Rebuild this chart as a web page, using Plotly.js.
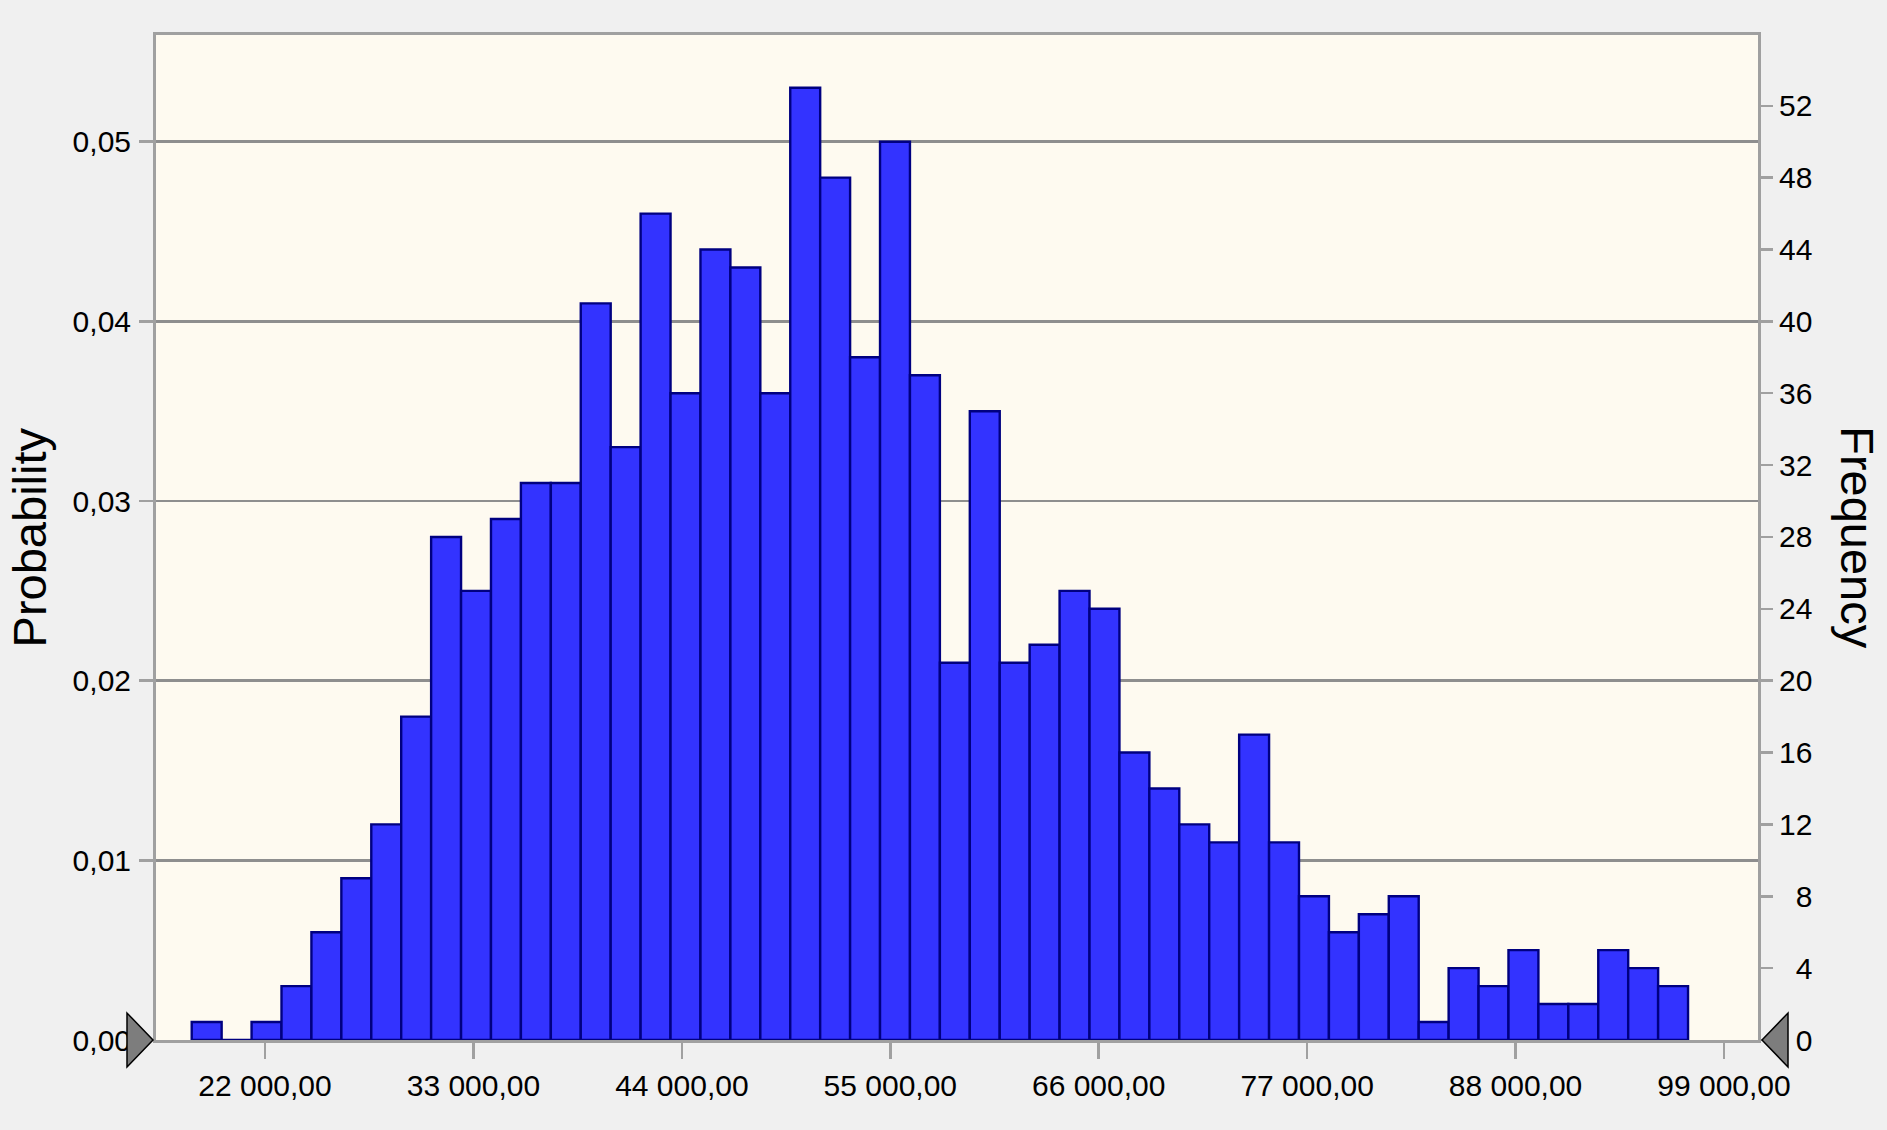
<!DOCTYPE html>
<html>
<head>
<meta charset="utf-8">
<script src="https://cdn.plot.ly/plotly-3.0.1.min.js"></script>
<style>
  html, body { margin: 0; padding: 0; background: #f0f0f0; }
  #chart { width: 1887px; height: 1130px; }
</style>
</head>
<body>
<div id="chart"></div>
<script>
// ---- data ----
const binStart = 18132;     // left edge of first bin
const binWidth = 1579.4;    // width of every bin
const frequency = [
  1, 0, 1, 3, 6, 9, 12, 18, 28, 25,
  29, 31, 31, 41, 33, 46, 36, 44, 43, 36,
  53, 48, 38, 50, 37, 21, 35, 21, 22, 25,
  24, 16, 14, 12, 11, 17, 11, 8, 6, 7,
  8, 1, 4, 3, 5, 2, 2, 5, 4, 3
];
const trials = 1000;
const xTickVals = [22000, 33000, 44000, 55000, 66000, 77000, 88000, 99000];
const xTickText = ['22 000,00', '33 000,00', '44 000,00', '55 000,00', '66 000,00', '77 000,00', '88 000,00', '99 000,00'];
const probTickVals = [0, 0.01, 0.02, 0.03, 0.04, 0.05];
const probTickText = ['0,00', '0,01', '0,02', '0,03', '0,04', '0,05'];
const freqTickVals = [0, 4, 8, 12, 16, 20, 24, 28, 32, 36, 40, 44, 48, 52];
const xRange = [16247, 100794];
const freqMax = 55.94;

// ---- build ----
const centers = frequency.map((_, i) => binStart + (i + 0.5) * binWidth);
const FS = '\u2007';
const freqTickText = freqTickVals.map(v => (v < 10 ? FS : '') + String(v));

const tickFont = { family: '"Liberation Sans", Arial, sans-serif', size: 30, color: '#000' };
const titleFont = { family: '"Liberation Sans", Arial, sans-serif', size: 47, color: '#000' };

const trace = {
  type: 'bar',
  x: centers,
  y: frequency,
  width: binWidth,
  yaxis: 'y2',
  marker: { color: '#3333ff', line: { color: '#000080', width: 2.4 } },
  hoverinfo: 'x+y'
};
// invisible trace to activate the probability axis
const probTrace = {
  type: 'scatter', mode: 'markers',
  x: [centers[0]], y: [frequency[0] / trials],
  marker: { opacity: 0 }, hoverinfo: 'skip', showlegend: false
};

const layout = {
  width: 1887, height: 1130,
  paper_bgcolor: '#f0f0f0',
  plot_bgcolor: '#fefaf0',
  margin: { l: 156, r: 129, t: 35, b: 90, pad: 0 },
  showlegend: false,
  bargap: 0,
  xaxis: {
    range: xRange,
    tickvals: xTickVals, ticktext: xTickText,
    ticks: 'outside', ticklen: 16, tickwidth: 2.5, tickcolor: '#a0a0a0',
    showgrid: false, zeroline: false,
    showline: true, mirror: true, linecolor: '#a0a0a0', linewidth: 3,
    tickfont: tickFont, ticklabelstandoff: 1
  },
  yaxis: {
    range: [0, freqMax / trials],
    tickvals: probTickVals, ticktext: probTickText,
    ticks: 'outside', ticklen: 14, tickwidth: 2.5, tickcolor: '#a0a0a0',
    showgrid: true, gridcolor: '#8e8e8e', gridwidth: 2.5,
    zeroline: false,
    showline: true, mirror: true, linecolor: '#a0a0a0', linewidth: 3,
    tickfont: tickFont, ticklabelstandoff: 2
  },
  yaxis2: {
    overlaying: 'y', side: 'right',
    range: [0, freqMax],
    tickvals: freqTickVals, ticktext: freqTickText,
    ticks: 'outside', ticklen: 14, tickwidth: 2.5, tickcolor: '#a0a0a0',
    showgrid: false, zeroline: false, showline: false,
    tickfont: tickFont, ticklabelstandoff: 0
  },
  annotations: [
    { text: 'Probability', xref: 'paper', yref: 'paper', x: -0.0787, y: 0.5,
      xanchor: 'center', yanchor: 'middle', textangle: -90, showarrow: false, font: titleFont },
    { text: 'Frequency', xref: 'paper', yref: 'paper', x: 1.062, y: 0.5,
      xanchor: 'center', yanchor: 'middle', textangle: 90, showarrow: false, font: titleFont }
  ],
  shapes: [
    { type: 'path', xref: 'paper', yref: 'paper', xsizemode: 'pixel', ysizemode: 'pixel',
      xanchor: 0, yanchor: 0, path: 'M-29,-27 L-3,0 L-29,27 Z',
      fillcolor: '#7d7d7d', line: { color: '#000', width: 1.5 }, layer: 'above' },
    { type: 'path', xref: 'paper', yref: 'paper', xsizemode: 'pixel', ysizemode: 'pixel',
      xanchor: 1, yanchor: 0, path: 'M30,-27 L4,0 L30,27 Z',
      fillcolor: '#7d7d7d', line: { color: '#000', width: 1.5 }, layer: 'above' }
  ]
};

Plotly.newPlot('chart', [trace, probTrace], layout, { displayModeBar: false, staticPlot: true });
</script>
</body>
</html>
